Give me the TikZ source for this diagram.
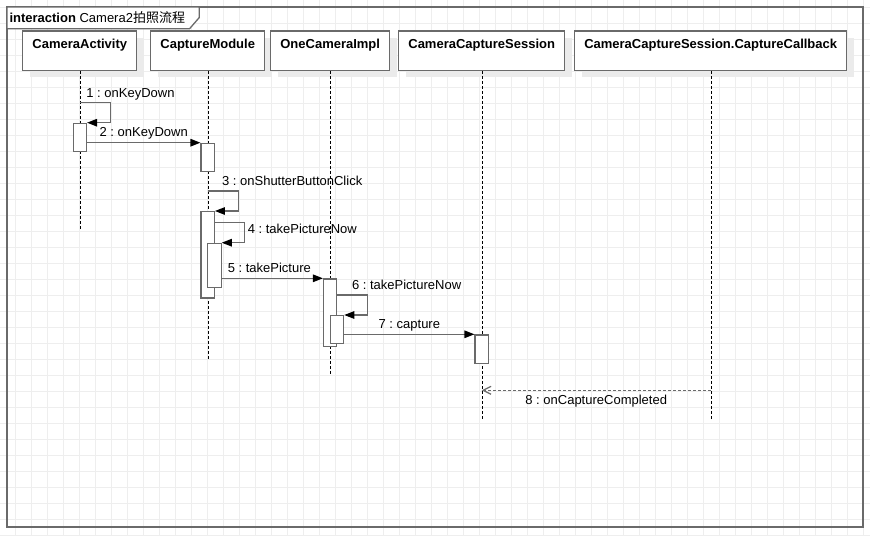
\documentclass[tikz,border=0pt]{standalone}
\usepackage{fontspec}
\setmainfont{Liberation Sans}
\newfontfamily\cjk{Noto Sans CJK SC}
\frenchspacing
\usepackage{tikz}
\usetikzlibrary{arrows.meta}
\usetikzlibrary{shadows}
\definecolor{gridgray}{HTML}{EEEEEE}
\definecolor{linegray}{HTML}{6A6A6A}
\tikzset{
	seq_txt/.style = {inner sep=0pt, font=\fontsize{13pt}{15pt}\selectfont},
	seq_head/.style = {seq_txt, draw=linegray, fill=white, line width=1.2pt,
		font=\fontsize{13pt}{15pt}\selectfont\bfseries, inner xsep=9.7pt,
		text height=17pt, text depth=22.3pt,
		drop shadow={shadow xshift=7pt, shadow yshift=-7pt, fill=black!8, opacity=1}},% lifeline head
	seq_life/.style = {draw=black, dash pattern=on 3pt off 2pt},% lifeline
	seq_act/.style = {draw=linegray, fill=white, line width=1.2pt, anchor=north,
		minimum width=13.3pt, minimum height=#1, inner sep=0pt},% activation bar
	seq_msg/.style = {draw=linegray, line width=1.2pt, ->},% call
	seq_ret/.style = {seq_msg, dash pattern=on 3pt off 2pt,
		-{Straight Barb[length=8pt,width=8pt,color=linegray]}},% reply
	seq_lbl/.style = {seq_txt, anchor=base},% label over a call
	seq_self/.style = {seq_txt, anchor=base west}% label of a self call
}

\begin{document}
\begin{tikzpicture}[x=1pt, y=-1pt, >={Triangle[length=10pt,width=7.5pt,color=black]}]
	\useasboundingbox (0,0) rectangle (870,536);
	% background grid
	\foreach \gx in {0,...,53}
		\draw[gridgray, line width=0.8pt] (15.5+16*\gx,0) -- (15.5+16*\gx,536);
	\foreach \gy in {0,...,33}
		\draw[gridgray, line width=0.8pt] (0,7.3+16*\gy) -- (870,7.3+16*\gy);
	% frame and its tab
	\draw[linegray, line width=1.3pt] (7,7) rectangle (863,527);
	\draw[linegray, line width=1.3pt, fill=white] (7,7) -- (199.3,7) -- (199.3,17.5)
		-- (189.5,28.8) -- (7,28.8) -- cycle;
	\node[seq_txt, anchor=base west] (title) at (9.3,22.3)
		{\textbf{interaction} Camera2{\cjk 拍照流程}};
	% heads
	\node[seq_head] (camAct) at (79.8,50.65) {CameraActivity};
	\node[seq_head] (capMod) at (207.7,50.65) {CaptureModule};
	\node[seq_head] (oneCam) at (330.2,50.65) {OneCameraImpl};
	\node[seq_head] (camSess) at (481.7,50.65) {CameraCaptureSession};
	\node[seq_head] (capCb) at (710.7,50.65) {CameraCaptureSession.CaptureCallback};
	% lifelines
	\draw[seq_life] (camAct.south) -- ++(0,158.7);
	\draw[seq_life] (capMod.south) -- ++(0,288.7);
	\draw[seq_life] (oneCam.south) -- ++(0,302.7);
	\draw[seq_life] (camSess.south) -- ++(0,349.7);
	\draw[seq_life] (capCb.south) -- ++(0,349.7);
	% activations
	\node[seq_act=28pt] (actA) at (camAct.south |- 0,122.7) {};
	\node[seq_act=28pt] (actB) at (capMod.south |- 0,142.7) {};
	\node[seq_act=86.3pt] (actC) at (capMod.south |- 0,211) {};
	\node[seq_act=44pt] (actD) at ([xshift=6.8pt]capMod.south |- 0,242.7) {};
	\node[seq_act=67.4pt] (actE) at (oneCam.south |- 0,278.3) {};
	\node[seq_act=27.7pt] (actF) at ([xshift=6.8pt]oneCam.south |- 0,315) {};
	\node[seq_act=28.4pt] (actG) at (camSess.south |- 0,334.3) {};
	% calls
	\draw[seq_msg] (camAct.south |- 0,102.7)
		node[seq_self, xshift=6pt, yshift=5.7pt] (l1) {1 : onKeyDown}
		-- ++(30.3,0) |- (actA.north east);
	\draw[seq_msg] (actA.east |- actB.north) -- (actB.north west)
		node[seq_lbl, midway, yshift=6pt] (l2) {2 : onKeyDown};
	\draw[seq_msg] (capMod.south |- 0,191)
		node[seq_self, xshift=13.8pt, yshift=6pt] (l3) {3 : onShutterButtonClick}
		-- ++(30.6,0) |- (actC.north east);
	\draw[seq_msg] (actC.east |- 0,222.7) -- ++(29.5,0)
		node[seq_self, xshift=2.7pt, yshift=-10.6pt] (l4) {4 : takePictureNow}
		|- (actD.north east);
	\draw[seq_msg] (actD.east |- actE.north) -- (actE.north west)
		node[seq_lbl, midway, xshift=-3pt, yshift=6pt] (l5) {5 : takePicture};
	\draw[seq_msg] (actE.east |- 0,295)
		node[seq_self, xshift=14pt, yshift=6pt] (l6) {6 : takePictureNow}
		-- ++(30.3,0) |- (actF.north east);
	\draw[seq_msg] (actF.east |- actG.north) -- (actG.north west)
		node[seq_lbl, midway, yshift=6pt] (l7) {7 : capture};
	% reply
	\draw[seq_ret] (capCb.south |- 0,390.3) -- (camSess.south |- 0,390.3)
		node[seq_lbl, midway, yshift=-14pt] (l8) {8 : onCaptureCompleted};
\end{tikzpicture}
\end{document}
